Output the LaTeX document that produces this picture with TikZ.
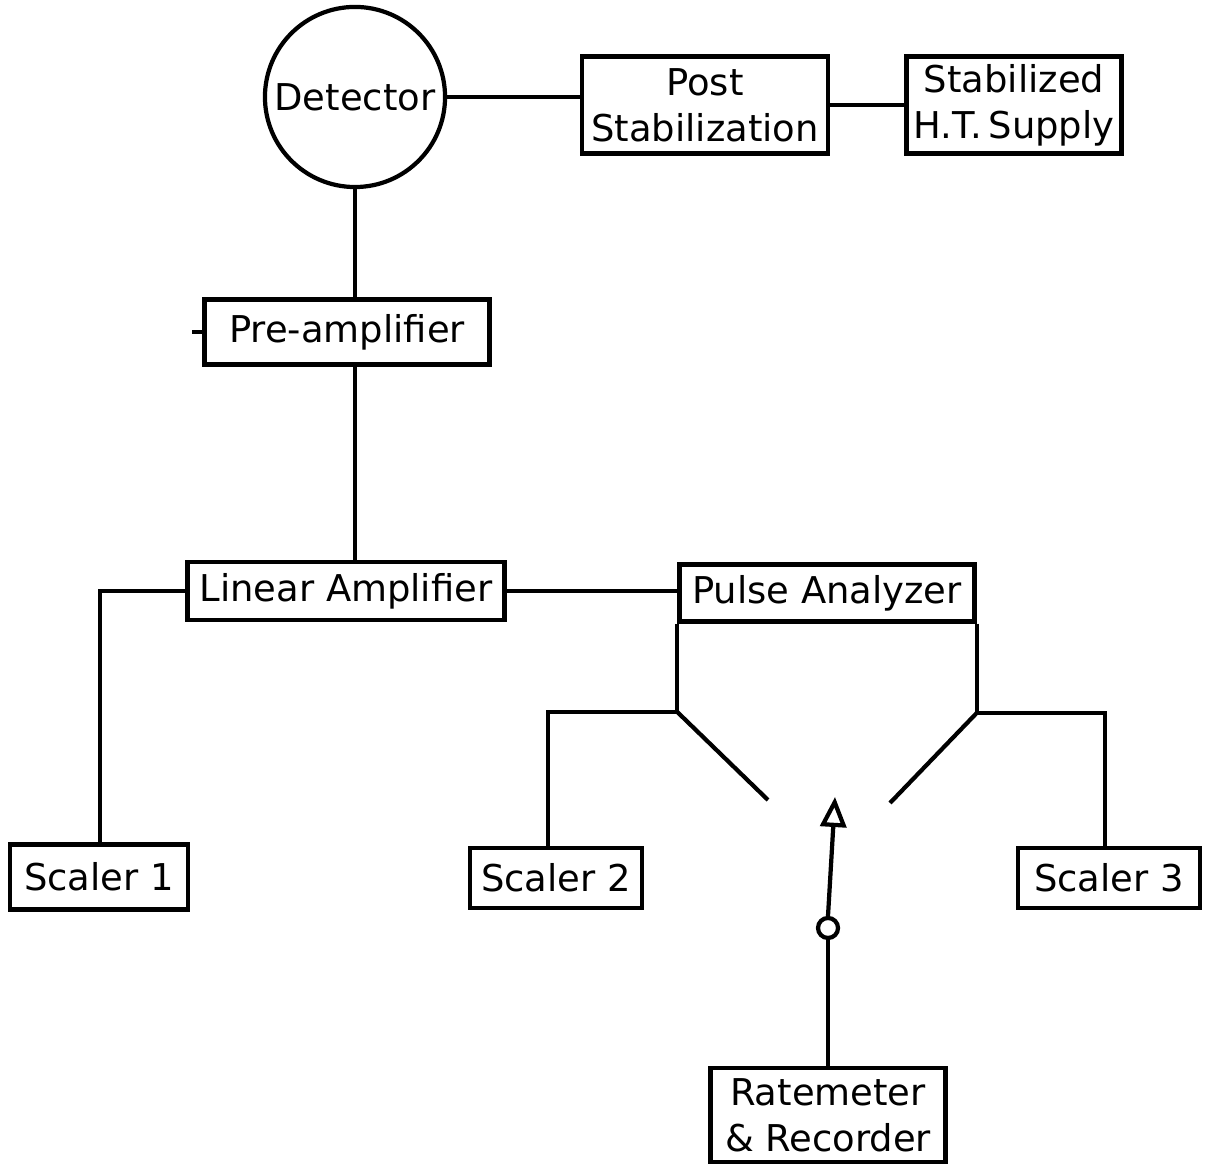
\documentclass[tikz,border=0pt]{standalone}
\usepackage{fontspec}
\setmainfont{DejaVu Sans}
\usetikzlibrary{arrows.meta}
\tikzset{
  every picture/.style={line width=1.2pt},
  unit/.style={draw, inner sep=2pt, font=\fontsize{10.5}{13}\selectfont, align=center},
  wire/.style={line width=1.2pt}
}

\begin{document}
\begin{tikzpicture}[x=0.01cm, y=-0.01cm]
  \useasboundingbox (0,0) rectangle (1212,1165);

  % top row
  \node [unit, circle, minimum size=1.8cm] (det) at (355,97) {Detector};
  \node [unit, minimum width=2.46cm, minimum height=0.97cm] (post) at (705,105) {Post\\Stabilization};
  \node [unit, minimum width=2.12cm, minimum height=0.97cm] (hts) at (1014,105) {Stabilized\\H.T.\,Supply};

  \draw [wire] (det.east) -- (det.east -| post.west);
  \draw [wire] (post.east) -- (hts.west);

  % amplifier chain
  \node [unit, minimum width=2.85cm, minimum height=0.65cm] (pre) at (347,332) {Pre-amplifier};
  \node [unit, minimum width=3.17cm, minimum height=0.58cm] (lin) at (346,591) {Linear Amplifier};
  \node [unit, minimum width=2.95cm, minimum height=0.57cm] (pha) at (827,593) {Pulse Analyzer};

  \draw [wire] (det.south) -- (det.south |- pre.north);
  \draw [wire] (pre.west) -- ++(-10,0);
  \draw [wire] (pre.south -| det.south) -- (lin.north -| det.south);
  \draw [wire] (lin.east) -- (lin.east -| pha.west);

  % scalers
  \node [unit, minimum width=1.78cm, minimum height=0.65cm] (sc1) at (99,877) {Scaler 1};
  \node [unit, minimum width=1.72cm, minimum height=0.60cm] (sc2) at (556,878) {Scaler 2};
  \node [unit, minimum width=1.82cm, minimum height=0.60cm] (sc3) at (1109,878) {Scaler 3};
  \node [unit, minimum width=2.35cm, minimum height=0.94cm] (rate) at (828,1115) {Ratemeter\\\& Recorder};

  \draw [wire] (lin.west) -| (sc1.north -| 100,0);

  % switch contacts
  \coordinate (cl) at (pha.south west |- 0,712);
  \coordinate (cr) at (pha.south east |- 0,713);
  \coordinate (pl) at (768,800);
  \coordinate (pr) at (890,803);
  \coordinate (tip) at (835,797);
  \coordinate (pivot) at (828,928);

  \draw [wire] (pha.south west) -- (cl) -| (sc2.north -| 548,0);
  \draw [wire] (cl) -- (pl);
  \draw [wire] (pha.south east) -- (cr) -| (sc3.north -| 1105,0);
  \draw [wire] (cr) -- (pr);

  % rotary arm
  \node [draw, circle, minimum size=0.2cm, inner sep=0pt] (piv) at (pivot) {};
  \draw [wire, -{Triangle[open, length=0.3cm, width=0.26cm]}] (piv.north) -- (tip);
  \draw [wire] (piv.south) -- (rate.north -| piv.south);
\end{tikzpicture}
\end{document}
